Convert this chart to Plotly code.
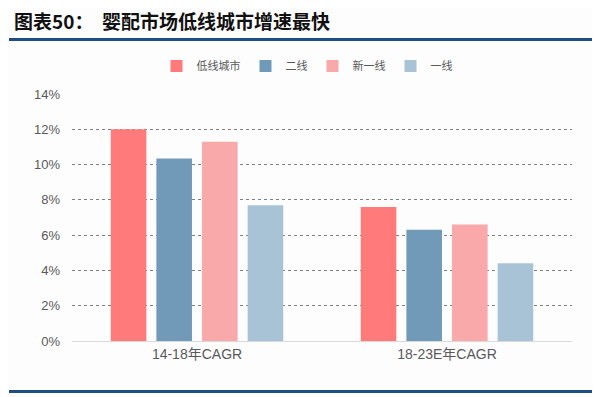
import plotly.graph_objects as go

categories = ["14-18年CAGR", "18-23E年CAGR"]
series_names = ["低线城市", "二线", "新一线", "一线"]
low_tier = [12.0, 7.6]
tier2 = [10.35, 6.3]
new_tier1 = [11.3, 6.6]
tier1 = [7.7, 4.4]
y_ticks = [0, 2, 4, 6, 8, 10, 12, 14]
y_tick_labels = ["0%", "2%", "4%", "6%", "8%", "10%", "12%", "14%"]

colors = ["#FF7B7B", "#7199B8", "#F9A9A9", "#A9C3D6"]
values = [low_tier, tier2, new_tier1, tier1]

fig = go.Figure()
for name, vals, c in zip(series_names, values, colors):
    fig.add_trace(go.Bar(x=categories, y=vals, name=name, marker=dict(color=c, line=dict(width=0))))

# page body has an 8px margin; work in window pixel coordinates
OFF = 8
W, H = 600 - OFF, 397 - OFF
L, T = 72 - OFF, 94 - OFF
PR, PB = 572 - OFF, 341 - OFF  # plot right / bottom in figure px
R, B = W - PR, H - PB
pw, ph = PR - L, PB - T

def px_x(x):
    return (x - OFF - L) / pw

def px_y(y):
    return (PB - (y - OFF)) / ph

fig.update_layout(
    width=W, height=H,
    margin=dict(l=L, r=R, t=T, b=B, autoexpand=False),
    paper_bgcolor="#FDFDFE",
    plot_bgcolor="#FDFDFE",
    barmode="group",
    bargap=0.27,
    bargroupgap=0.22,
    font=dict(family="Liberation Sans, Noto Sans CJK SC", color="#595959", size=13),
    showlegend=True,
    legend=dict(orientation="h", x=px_x(307), xanchor="center", y=px_y(66), yanchor="middle",
                font=dict(family="Noto Sans CJK SC", size=11, color="#595959"),
                itemwidth=30, tracegroupgap=0, bgcolor="rgba(0,0,0,0)"),
    xaxis=dict(showgrid=False, showline=True, linecolor="#D9D9D9", linewidth=1,
               ticks="", tickfont=dict(size=14, color="#595959", family="Liberation Sans, Noto Sans CJK SC")),
    yaxis=dict(range=[0, 14], tickvals=y_ticks, ticktext=y_tick_labels,
               showgrid=True, gridcolor="#7F7F7F", gridwidth=1, griddash="dot",
               zeroline=False, showline=False, ticks="", ticklabelstandoff=11,
               tickfont=dict(size=13, color="#595959")),
)

# title
fig.add_annotation(text="<b>图表50：  婴配市场低线城市增速最快</b>", xref="paper", yref="paper",
                   x=px_x(12), y=px_y(20), xanchor="left", yanchor="middle", showarrow=False,
                   font=dict(family="Noto Sans CJK SC", size=19, color="#111111"))
# decorative lines
fig.add_shape(type="line", xref="paper", yref="paper", x0=px_x(9), x1=px_x(600), y0=px_y(39.5), y1=px_y(39.5),
              line=dict(color="#1F4E86", width=3))
fig.add_shape(type="line", xref="paper", yref="paper", x0=px_x(9), x1=px_x(600), y0=px_y(391.5), y1=px_y(391.5),
              line=dict(color="#1F4E86", width=3))

fig.write_html("out.html")
